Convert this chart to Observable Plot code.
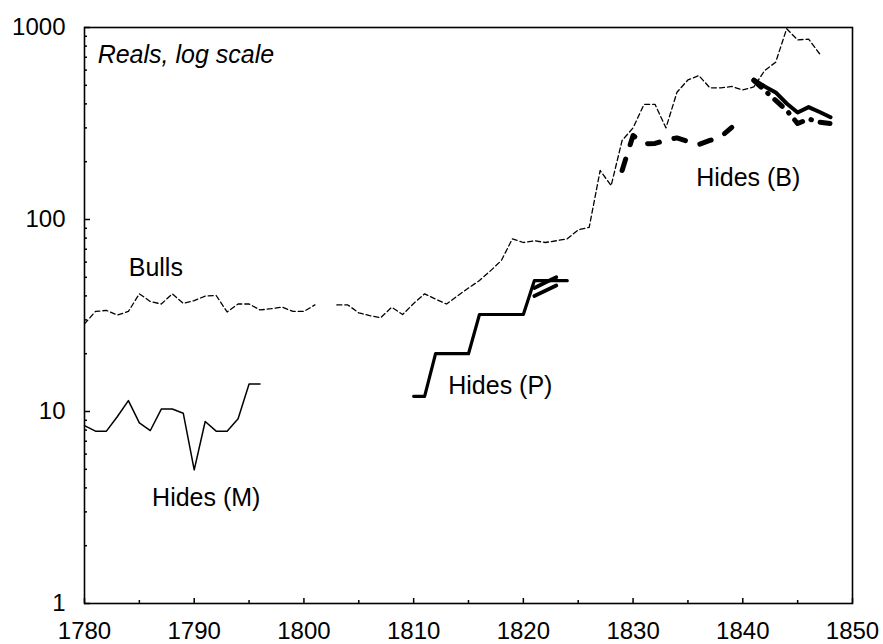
<!DOCTYPE html>
<html>
<head>
<meta charset="utf-8">
<script src="https://cdn.jsdelivr.net/npm/d3@7"></script>
<script src="https://cdn.jsdelivr.net/npm/@observablehq/plot@0.6"></script>
<style>
  html, body { margin: 0; padding: 0; background: #fff; }
  svg { display: block; }
</style>
</head>
<body>
<div id="chart"></div>
<script>
// ---- data ----
const bullsYears = d3.range(1780, 1848);
const bullsValues = [
  28.6, 33.2, 33.6, 31.8, 33.2, 41, 37.4, 36.3, 41, 36.6,
  37.8, 39.9, 40.2, 33, 36.3, 36.3, 33.8, 34.3, 35, 33.2,
  33.2, 35.9, null, 35.9, 35.9, 32.6, 31.6, 30.8, 34.9, 32,
  36.5, 41, 38.5, 36.3, 40, 44, 48.1, 54, 61.2, 79.3,
  75.9, 77.5, 75.9, 77.5, 79.3, 88.3, 91, 180, 150, 258,
  300, 398, 398, 300, 460, 533, 562, 485, 485, 493,
  473, 490, 597, 660, 985, 862, 870, 730
];

const hidesMYears = d3.range(1780, 1797);
const hidesMValues = [8.45, 7.9, 7.9, 9.42, 11.4, 8.73, 7.96, 10.3, 10.3, 9.8, 4.97, 8.87, 7.9, 7.9, 9.16, 13.9, 13.9];

const hidesPYears = d3.range(1810, 1825);
const hidesPValues = [12, 12, 20, 20, 20, 20, 32, 32, 32, 32, 32, 48, 48, 48, 48];

const hidesPAltYears = [1821, 1822, 1823];
const hidesPAltA = [44, 47, 50];
const hidesPAltB = [40, 42.5, 45.3];

const hidesBDashYears = d3.range(1829, 1840);
const hidesBDashValues = [180, 274, 248, 249, 259, 266, 255, 246, 258, 270, 302];

const hidesBLateYears = d3.range(1841, 1849);
const hidesBSolidValues = [536, 493, 459, 402, 361, 385, 363, 341];
const hidesBDashDotValues = [530, 470, 417, 370, 316, 334, 321, 316];

const xMajorTicks = [1780, 1790, 1800, 1810, 1820, 1830, 1840, 1850];
const xMinorTicks = [1785, 1795, 1805, 1815, 1825, 1835, 1845];
const yMajorTicks = [1, 10, 100, 1000];
const yMinorTicks = [2,3,4,5,6,7,8,9,20,30,40,50,60,70,80,90,200,300,400,500,600,700,800,900];

const labelNames = ["Bulls", "Hides (M)", "Hides (P)", "Hides (B)"];
const labelYears = [1786.5, 1791.1, 1817.9, 1840.5];
const labelValues = [56, 3.56, 13.5, 165];
const noteText = "Reals, log scale";
const noteYear = 1781.2;
const noteValue = 715;

// ---- build tables ----
const rows = (years, values) => years.map((y, i) => ({year: y, value: values[i]}));
const bulls = rows(bullsYears, bullsValues);
const hidesM = rows(hidesMYears, hidesMValues);
const hidesP = rows(hidesPYears, hidesPValues);
const hidesPA = rows(hidesPAltYears, hidesPAltA);
const hidesPB = rows(hidesPAltYears, hidesPAltB);
const hidesBDash = rows(hidesBDashYears, hidesBDashValues);
const hidesBSolid = rows(hidesBLateYears, hidesBSolidValues);
const hidesBDashDot = rows(hidesBLateYears, hidesBDashDotValues);
const labels = labelNames.map((t, i) => ({text: t, year: labelYears[i], value: labelValues[i]}));
const note = [{text: noteText, year: noteYear, value: noteValue}];

// ---- layout ----
const W = 883, H = 644;
const mL = 84, mR = 31, mT = 27, mB = 41;
const innerW = W - mL - mR;
const innerH = H - mT - mB;

const chart = Plot.plot({
  width: W,
  height: H,
  marginLeft: mL,
  marginRight: mR,
  marginTop: mT,
  marginBottom: mB,
  style: {fontFamily: "'Liberation Sans', Arial, sans-serif", fontSize: "24px", color: "black", background: "white"},
  x: {domain: [1780, 1850]},
  y: {type: "log", domain: [1, 1000]},
  marks: [
    Plot.axisX({ticks: xMajorTicks, tickFormat: d => String(d), tickSize: 0, tickPadding: 18, fontSize: 24, label: null}),
    Plot.axisY({ticks: yMajorTicks, tickFormat: d => String(d), tickSize: 0, tickPadding: 19, fontSize: 24, label: null}),
    Plot.tickX(xMajorTicks, {x: d => d, insetTop: innerH - 5, stroke: "black", strokeWidth: 1.5}),
    Plot.tickX(xMinorTicks, {x: d => d, insetTop: innerH - 3, stroke: "black", strokeWidth: 1.5}),
    Plot.tickY(yMajorTicks, {y: d => d, insetRight: innerW - 6, stroke: "black", strokeWidth: 1.5}),
    Plot.tickY(yMinorTicks, {y: d => d, insetRight: innerW - 3, stroke: "black", strokeWidth: 1.5}),
    Plot.frame({stroke: "black", strokeWidth: 1.6}),
    Plot.line(bulls, {x: "year", y: "value", stroke: "black", strokeWidth: 1.3, strokeDasharray: "5,3"}),
    Plot.line(hidesM, {x: "year", y: "value", stroke: "black", strokeWidth: 1.5}),
    Plot.line(hidesP, {x: "year", y: "value", stroke: "black", strokeWidth: 3.2}),
    Plot.line(hidesPA, {x: "year", y: "value", stroke: "black", strokeWidth: 3.8, strokeLinecap: "round"}),
    Plot.line(hidesPB, {x: "year", y: "value", stroke: "black", strokeWidth: 3.8, strokeLinecap: "round"}),
    Plot.line(hidesBDash, {x: "year", y: "value", stroke: "black", strokeWidth: 5, strokeDasharray: "12,15", strokeLinecap: "round"}),
    Plot.line(hidesBSolid, {x: "year", y: "value", stroke: "black", strokeWidth: 4}),
    Plot.line(hidesBDashDot, {x: "year", y: "value", stroke: "black", strokeWidth: 5, strokeDasharray: "10,9,0.5,9", strokeLinecap: "round"}),
    Plot.text(labels, {x: "year", y: "value", text: "text", fontSize: 25, textAnchor: "middle", fill: "black"}),
    Plot.text(note, {x: "year", y: "value", text: "text", fontSize: 25, fontStyle: "italic", textAnchor: "start", fill: "black"})
  ]
});

document.getElementById("chart").appendChild(chart);
</script>
</body>
</html>
